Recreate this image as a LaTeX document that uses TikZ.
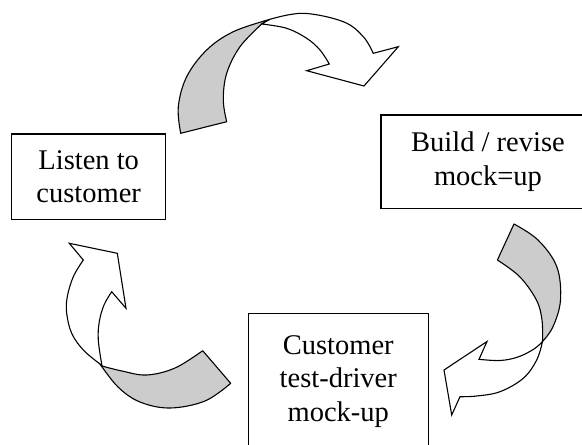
\documentclass[tikz,border=0pt]{standalone}
\usepackage{fontspec}
\setmainfont{Liberation Serif}
\usetikzlibrary{positioning}
\definecolor{ribbon}{gray}{0.8}

\begin{document}
\begin{tikzpicture}[x=1pt,y=-1pt,
    stagebox/.style={draw,line width=1.2pt,align=center,inner sep=0pt,
      font=\fontsize{28.5}{33.3}\selectfont},
    back/.style={draw,line width=1.1pt,fill=ribbon,line join=round},
    front/.style={draw,line width=1.1pt,fill=white,line join=miter}]
      \useasboundingbox (0,0) rectangle (582,445);

      % STAGES
      \node[stagebox,minimum width=154pt,minimum height=85.3pt] (listen) at (88.7,176.7) {Listen to\\customer};
      \node[stagebox,minimum width=214pt,minimum height=93.3pt] (build) at (488,161.7) {Build / revise\\mock=up};
      \node[stagebox,minimum width=180pt,minimum height=136pt] (test) at (338.3,381.3) {Customer\\test-driver\\mock-up};

      % TOP ARROW (listen -> build)
      \path[back] plot[smooth,tension=0.6] coordinates {(180.7,133.3) (178.3,106.7) (186.7,76.7) (206.7,50) (233.3,31.7) (270,19.3)}
        -- plot[smooth,tension=0.6] coordinates {(261.7,24) (240,46.7) (226.7,73.3) (223.3,100) (226.7,121.7)} -- cycle;
      \path[front] plot[smooth,tension=0.6] coordinates {(270,19.3) (303.3,13.3) (343.3,21.7) (363.3,36.7) (373.3,53.3)}
        -- (398.3,46.7) -- (364,86) -- (306.7,70.7)
        -- plot[smooth,tension=0.6] coordinates {(329.3,64) (320,50) (306.7,38.3) (286.7,28.3) (261.7,24)} -- cycle;

      % RIGHT ARROW (build -> test)
      \path[back] plot[smooth,tension=0.6] coordinates {(514,224) (538,240) (556.8,266.7) (560.5,300) (553,326.7) (542.5,341.5)}
        -- plot[smooth,tension=0.6] coordinates {(542.5,341.5) (542,320) (536.4,300) (519.7,276.7) (497.4,260)} -- cycle;
      \path[front] plot[smooth,tension=0.6] coordinates {(542.5,341.5) (536.7,360) (523.3,378.3) (500,391.7) (476.7,396) (460,396.7)}
        -- (451.7,415) -- (444,370) -- (487,341.5)
        -- plot[smooth,tension=0.6] coordinates {(479,359.3) (500,360.5) (518,357) (534,349) (542.5,341.5)} -- cycle;

      % LEFT ARROW (test -> listen)
      \path[back] plot[smooth,tension=0.6] coordinates {(230.7,383.3) (205,401) (170,408) (140,402) (118,387) (100,364)}
        -- plot[smooth,tension=0.6] coordinates {(102,366) (122,371) (146.7,375) (175,368) (202.7,350.7)} -- cycle;
      \path[front] plot[smooth,tension=0.6] coordinates {(100,364) (83.3,350) (71.7,333.3) (66.7,313.3) (67.3,296.7) (73.3,276.7) (83.3,260)}
        -- (69.3,243.3) -- (117.3,253.3) -- (126,308.3)
        -- plot[smooth,tension=0.6] coordinates {(111.7,291.7) (104,305) (99.3,321.7) (98.3,340) (102,366)} -- cycle;
\end{tikzpicture}
\end{document}
